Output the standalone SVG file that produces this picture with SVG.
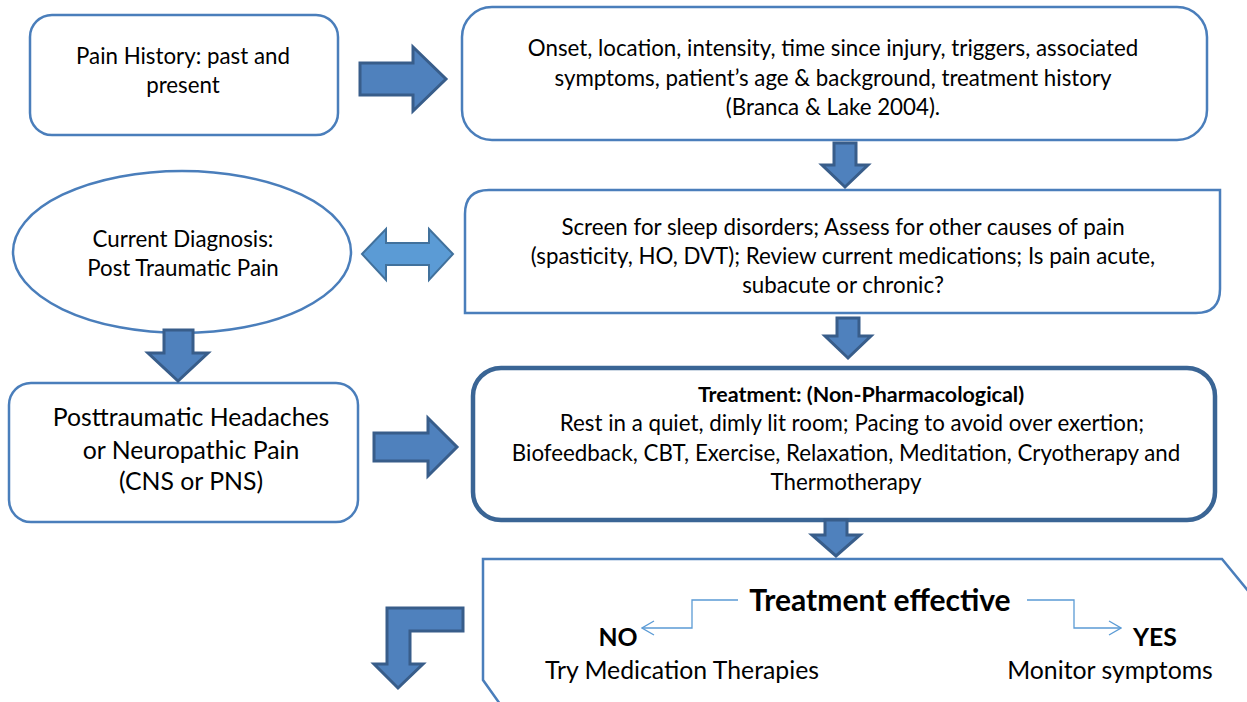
<svg xmlns="http://www.w3.org/2000/svg" width="1247" height="702" viewBox="0 0 1247 702">
<defs>
<style>
.box{fill:#fff;stroke:#4a7ebb;stroke-width:2.5}
.thick{fill:#fff;stroke:#3a6595;stroke-width:4.5}
.arr{fill:#4f81bd;stroke:#385d8a;stroke-width:3;stroke-linejoin:miter}
.darr{fill:#5b9bd5;stroke:#41719c;stroke-width:2}
.t{font-family:Lato,"Liberation Sans",sans-serif;font-size:22.3px;fill:#000;text-anchor:middle}
.big{font-size:24.8px}
.b{font-weight:bold}
.con{fill:none;stroke:#5b9bd5;stroke-width:1.3}
</style>
<marker id="chev" viewBox="0 0 14 16" refX="13" refY="8" markerWidth="14" markerHeight="16" markerUnits="userSpaceOnUse" orient="auto">
<path d="M1,1 L13,8 L1,15" fill="none" stroke="#5b9bd5" stroke-width="1.3"/>
</marker>
</defs>
<rect width="1247" height="702" fill="#fff"/>

<g id="pain-history">
<rect class="box" x="30" y="15" width="308" height="120" rx="22"/>
<text class="t" x="183" y="64">Pain History: past and</text>
<text class="t" x="183" y="93">present</text>
</g>

<g id="onset">
<rect class="box" x="462" y="7" width="745" height="133" rx="30"/>
<text class="t" x="833" y="56">Onset, location, intensity, time since injury, triggers, associated</text>
<text class="t" x="833" y="86">symptoms, patient’s age &amp; background, treatment history</text>
<text class="t" x="833" y="115">(Branca &amp; Lake 2004).</text>
</g>

<g id="diagnosis">
<ellipse class="box" cx="182" cy="252" rx="169" ry="81"/>
<text class="t" x="183" y="247">Current Diagnosis:</text>
<text class="t" x="183" y="276">Post Traumatic Pain</text>
</g>

<g id="screen">
<path class="box" d="M489,190 L1220,190 L1220,289 Q1220,313 1196,313 L465,313 L465,214 Q465,190 489,190 Z"/>
<text class="t" x="843" y="235">Screen for sleep disorders; Assess for other causes of pain</text>
<text class="t" x="843" y="264">(spasticity, HO, DVT); Review current medications; Is pain acute,</text>
<text class="t" x="843" y="293">subacute or chronic?</text>
</g>

<g id="headaches">
<rect class="box" x="9" y="383" width="349" height="139" rx="22"/>
<text class="t big" x="191" y="426">Posttraumatic Headaches</text>
<text class="t big" x="191" y="459">or Neuropathic Pain</text>
<text class="t big" x="191" y="490">(CNS or PNS)</text>
</g>

<g id="treatment">
<rect class="thick" x="473" y="368" width="742" height="152" rx="28"/>
<text class="t b" x="861" y="402" style="font-size:21.5px">Treatment: (Non-Pharmacological)</text>
<text class="t" x="852" y="431">Rest in a quiet, dimly lit room; Pacing to avoid over exertion;</text>
<text class="t" x="846" y="461">Biofeedback, CBT, Exercise, Relaxation, Meditation, Cryotherapy and</text>
<text class="t" x="846" y="490">Thermotherapy</text>
</g>

<g id="effective">
<path class="box" d="M500,704 L483,680 L483,559 L1222,559 L1249,592"/>
<text class="t b" x="880" y="611" style="font-size:30px">Treatment effective</text>
<text class="t b big" x="618" y="646">NO</text>
<text class="t big" x="682" y="679">Try Medication Therapies</text>
<text class="t b big" x="1155" y="646">YES</text>
<text class="t big" x="1110" y="679">Monitor symptoms</text>
</g>

<g id="connectors">
<path class="arr" d="M360,63 L413,63 L413,47 L446,79 L413,111 L413,95 L360,95 Z"/>
<path class="arr" d="M834,143 L856,143 L856,165 L868,165 L845,187 L822,165 L834,165 Z"/>
<path class="darr" d="M362,254 L386,229 L386,243 L429,243 L429,229 L453,254 L429,280 L429,265 L386,265 L386,280 Z"/>
<path class="arr" d="M837,318 L859,318 L859,336 L871,336 L848,358 L825,336 L837,336 Z"/>
<path class="arr" d="M164,330 L193,330 L193,353 L208,353 L178,381 L148,353 L164,353 Z"/>
<path class="arr" d="M374,433 L428,433 L428,418 L457,447 L428,476 L428,461 L374,461 Z"/>
<path class="arr" d="M825,520 L847,520 L847,535 L860,535 L836,556 L812,535 L825,535 Z"/>
<path class="arr" d="M463,608 L387,608 L387,664 L374,664 L398,688 L423,664 L410,664 L410,631 L463,631 Z"/>
<path class="con" marker-end="url(#chev)" d="M738,600 L692,600 L692,628 L642,628"/>
<path class="con" marker-end="url(#chev)" d="M1027,600 L1074,600 L1074,628 L1121,628"/>
</g>
</svg>
